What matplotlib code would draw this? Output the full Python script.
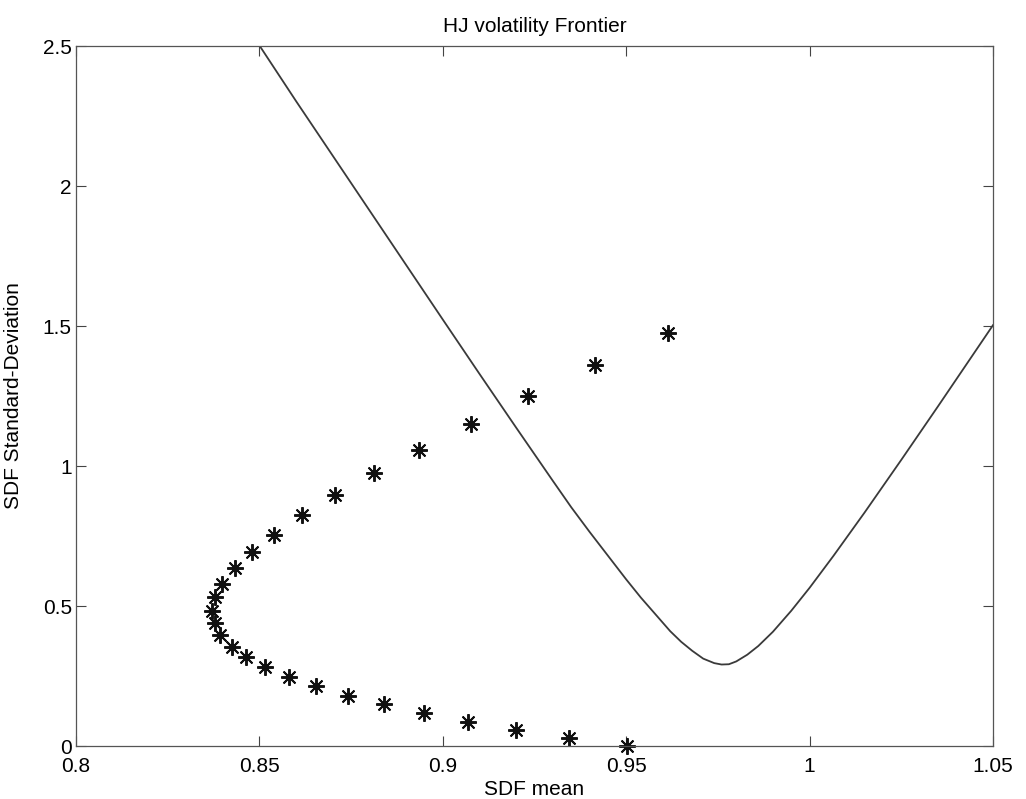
import matplotlib
matplotlib.use("Agg")
import matplotlib.pyplot as plt

plt.rcParams['font.family'] = ['Liberation Sans', 'DejaVu Sans']

# HJ volatility frontier
frontier_mean = [0.8503, 0.86, 0.87, 0.88, 0.89, 0.90, 0.91, 0.92, 0.93, 0.935,
                 0.94, 0.945, 0.95, 0.954, 0.958, 0.962, 0.965, 0.968, 0.971,
                 0.974, 0.976, 0.978, 0.980, 0.983, 0.986, 0.990, 0.995, 1.000,
                 1.0065, 1.015, 1.025, 1.035, 1.05]
frontier_std = [2.496, 2.303, 2.108, 1.913, 1.718, 1.523, 1.329, 1.137, 0.947, 0.853,
                0.765, 0.680, 0.595, 0.530, 0.470, 0.410, 0.372, 0.340, 0.312,
                0.296, 0.291, 0.292, 0.302, 0.326, 0.357, 0.408, 0.483, 0.565,
                0.679, 0.834, 1.022, 1.213, 1.503]

# SDF points (asterisks)
sdf_mean = [0.9614, 0.9415, 0.9233, 0.9076, 0.8935, 0.8812, 0.8706, 0.8616,
            0.8541, 0.8481, 0.8433, 0.8399, 0.8380, 0.8372, 0.8379, 0.8393,
            0.8424, 0.8464, 0.8515, 0.8580, 0.8654, 0.8741, 0.8840, 0.8948,
            0.9070, 0.9200, 0.9345, 0.9501]
sdf_std = [1.475, 1.360, 1.251, 1.151, 1.057, 0.975, 0.895, 0.824,
           0.752, 0.694, 0.637, 0.580, 0.531, 0.483, 0.438, 0.396,
           0.355, 0.317, 0.281, 0.246, 0.213, 0.180, 0.149, 0.117,
           0.086, 0.057, 0.0275, 0.0]

xticks = [0.8, 0.85, 0.9, 0.95, 1.0, 1.05]
xtick_labels = ['0.8', '0.85', '0.9', '0.95', '1', '1.05']
yticks = [0, 0.5, 1, 1.5, 2, 2.5]
ytick_labels = ['0', '0.5', '1', '1.5', '2', '2.5']

fig = plt.figure(figsize=(10.26, 7.99), dpi=100)
ax = fig.add_axes([76 / 1026, 53 / 799, 917 / 1026, 700 / 799])

ax.plot(frontier_mean, frontier_std, color='#3a3a3a', linewidth=1.3)
ax.plot(sdf_mean, sdf_std, linestyle='none', marker=(8, 2, 0), markersize=12,
        markeredgewidth=1.4, color='#111111', clip_on=False)

ax.set_xlim(0.8, 1.05)
ax.set_ylim(0, 2.5)
ax.set_xticks(xticks)
ax.set_xticklabels(xtick_labels)
ax.set_yticks(yticks)
ax.set_yticklabels(ytick_labels)
ax.tick_params(direction='in', length=7, width=0.8, labelsize=15,
               top=True, right=True, color='#444444')
ax.tick_params(axis='x', pad=8)
ax.tick_params(axis='y', pad=3)
for s in ax.spines.values():
    s.set_color('#555555')
    s.set_linewidth(0.9)

ax.set_title('HJ volatility Frontier', fontsize=15, pad=10)
ax.set_xlabel('SDF mean', fontsize=15, labelpad=3)
ax.set_ylabel('SDF Standard-Deviation', fontsize=15, labelpad=14)

fig.savefig('out.png', dpi=100)
